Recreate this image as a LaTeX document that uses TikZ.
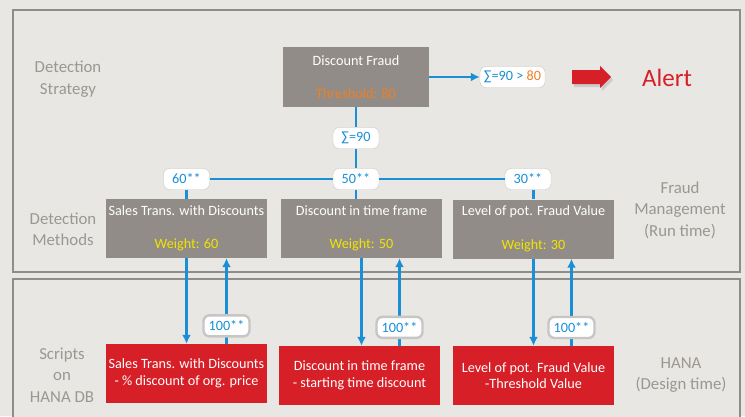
\documentclass[tikz,border=0pt]{standalone}
\usepackage{fontspec}
\setmainfont{Carlito}
\usetikzlibrary{arrows.meta}
\definecolor{bggray}{HTML}{E9E7E3}
\definecolor{panelgray}{HTML}{8F8D8B}
\definecolor{boxgray}{HTML}{918C87}
\definecolor{fraudred}{HTML}{D71F27}
\definecolor{linkblue}{HTML}{1A8FD6}
\definecolor{thresh}{HTML}{F07F22}
\definecolor{weight}{HTML}{F2E400}
\definecolor{sidegray}{HTML}{9B9792}
\begin{document}
\begin{tikzpicture}[x=1pt,y=-1pt,
		font=\fontsize{14.2}{16.5}\selectfont,
		panel/.style={draw=panelgray, line width=2pt, fill=bggray},
		stratbox/.style={fill=boxgray, text=white, minimum width=146pt, minimum height=60pt, align=center, inner sep=0pt},
		methbox/.style={fill=boxgray, text=white, minimum width=161pt, minimum height=59pt, align=center, inner sep=0pt},
		scriptbox/.style={fill=fraudred, text=white, minimum width=161pt, minimum height=59pt, align=center, inner sep=0pt},
		tag/.style={draw=gray!45, fill=white, rounded corners=6pt, text=linkblue, minimum width=46pt, minimum height=21pt, inner xsep=4pt, inner ysep=0pt},
		side/.style={text=sidegray, align=center, font=\fontsize{16.8}{21.5}\selectfont},
		link/.style={draw=linkblue, line width=2.4pt},
		tip/.style={-{Latex[length=9pt,width=9pt]}}]
		\fill[bggray] (0,0) rectangle (745,416);
		\useasboundingbox (0,0) rectangle (745,416);
		% the two panels
		\draw[panel] (13,10) rectangle (740,272);
		\draw[panel] (13,279) rectangle (740,430);
		% side labels
		\node[side] (strategy) at (68,79) {Detection\\Strategy};
		\node[side] (methods) at (63,229) {Detection\\Methods};
		\node[side] (runtime) at (680,210) {Fraud\\Management\\(Run time)};
		\node[side] (scripts) at (62,375) {Scripts\\on\\HANA DB};
		\node[side] (design) at (681,375) {HANA\\(Design time)};
		% strategy
		\node[stratbox] (df) at (356,77) {Discount Fraud\\[16pt]{\color{thresh}Threshold: 80}};
		\node[tag] (total) at (512.5,77) {∑=90 > {\color{thresh}80}};
		\fill[gray!40] (574,73) -- (602,73) -- (602,69) -- (613,80) -- (602,91) -- (602,87) -- (574,87) -- cycle;
		\fill[fraudred] (572,70) -- (600,70) -- (600,66) -- (611,77) -- (600,88) -- (600,84) -- (572,84) -- cycle;
		\node[text=fraudred, font=\fontsize{25}{30}\selectfont] (alert) at (667,78) {Alert};
		\draw[link,tip] (df) -- (total);
		% methods
		\node[methbox] (m1) at (186.5,228.5) {Sales Trans. with Discounts\\[17pt]{\color{weight}Weight: 60}};
		\node[methbox] (m2) at (361.5,228.5) {Discount in time frame\\[17pt]{\color{weight}Weight: 50}};
		\node[methbox] (m3) at (533.5,229) {Level of pot. Fraud Value\\[17pt]{\color{weight}Weight: 30}};
		\node[tag] (sum) at (356,138) {∑=90};
		\node[tag] (w1) at (186.5,179) {60**};
		\node[tag] (w2) at (356,179) {50**};
		\node[tag] (w3) at (528,179) {30**};
		\draw[link] (df) -- (sum);
		\draw[link] (sum) -- (w2);
		\draw[link] (w1) -- (w2) -- (w3);
		\draw[link] (w1) -- (m1);
		\draw[link] (w2) -- (w2 |- m2.north);
		\draw[link] (w3.south -| m3.north) -- (m3.north);
		% scripts
		\node[scriptbox] (r1) at (186.5,373.5) {Sales Trans. with Discounts\\- \% discount of org. price};
		\node[scriptbox] (r2) at (359.5,375.5) {Discount in time frame\\- starting time discount};
		\node[scriptbox] (r3) at (533.5,375.5) {Level of pot. Fraud Value\\-Threshold Value};
		\draw[link,tip] (m1) -- (r1);
		\draw[link,tip] (m2.south) -- (m2.south |- r2.north);
		\draw[link,tip] (m3) -- (r3);
		\draw[link,tip] ([xshift=40pt]r1.north) -- ([xshift=40pt]m1.south) node[tag,pos=0.21] (u1) {100**};
		\draw[link,tip] ([xshift=40pt]r2.north) -- ([xshift=40pt]r2.north |- m2.south) node[tag,pos=0.21] (u2) {100**};
		\draw[link,tip] ([xshift=38pt]r3.north) -- ([xshift=38pt]m3.south) node[tag,pos=0.21] (u3) {100**};
	\end{tikzpicture}
\end{document}
